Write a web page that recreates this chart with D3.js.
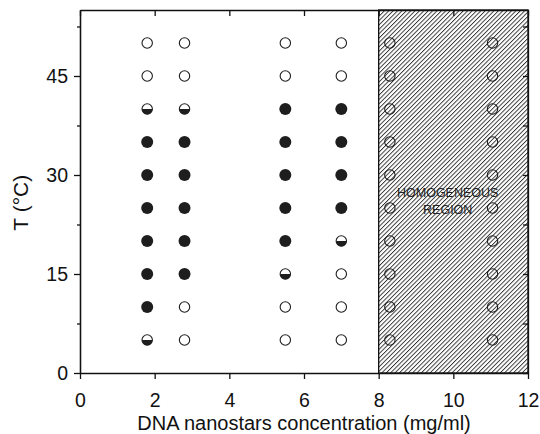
<!DOCTYPE html>
<html>
<head>
<meta charset="utf-8">
<script src="https://cdn.jsdelivr.net/npm/d3@7"></script>
<style>
  body { margin: 0; background: #fff; }
  svg text { font-family: "Liberation Sans", Arial, sans-serif; }
</style>
</head>
<body>
<div id="chart"></div>
<script>
// concentrations (mg/ml) and temperatures (C) of the measured samples
var concentrations = [1.8, 2.8, 5.5, 7, 8.3, 11.05];
var temperatures = [5, 10, 15, 20, 25, 30, 35, 40, 45, 50];
// state per column, listed from 5 C upward: o = open, f = filled, h = half
var states = [
  ["h", "f", "f", "f", "f", "f", "f", "h", "o", "o"],
  ["o", "o", "f", "f", "f", "f", "f", "h", "o", "o"],
  ["o", "o", "h", "f", "f", "f", "f", "f", "o", "o"],
  ["o", "o", "o", "h", "f", "f", "f", "f", "o", "o"],
  ["o", "o", "o", "o", "o", "o", "o", "o", "o", "o"],
  ["o", "o", "o", "o", "o", "o", "o", "o", "o", "o"]
];
var homogeneousFrom = 8;
var xTicks = [0, 2, 4, 6, 8, 10, 12];
var yTicks = [0, 15, 30, 45];
var yMinor = [7.5, 22.5, 37.5, 52.5];

var width = 540, height = 434;
var margin = {top: 10, right: 12, bottom: 61, left: 80};

var points = [];
concentrations.forEach(function(c, i) {
  temperatures.forEach(function(t, j) {
    points.push({c: c, t: t, s: states[i][j]});
  });
});

var svg = d3.select("#chart").append("svg")
  .attr("width", width)
  .attr("height", height);

var x = d3.scaleLinear().domain([0, 12]).range([margin.left, width - margin.right]);
var y = d3.scaleLinear().domain([0, 55]).range([height - margin.bottom, margin.top]);

var defs = svg.append("defs");
defs.append("pattern")
  .attr("id", "hatch")
  .attr("patternUnits", "userSpaceOnUse")
  .attr("width", 3.1)
  .attr("height", 3.1)
  .attr("patternTransform", "rotate(45)")
  .append("line")
  .attr("x1", 0.5).attr("y1", 0)
  .attr("x2", 0.5).attr("y2", 3.1)
  .attr("stroke", "#111")
  .attr("stroke-width", 0.8);

defs.append("clipPath").attr("id", "lowerHalf")
  .append("rect")
  .attr("x", -10).attr("y", 0)
  .attr("width", 20).attr("height", 10);

// homogeneous region
svg.append("rect")
  .attr("x", x(homogeneousFrom))
  .attr("y", y(55))
  .attr("width", x(12) - x(homogeneousFrom))
  .attr("height", y(0) - y(55))
  .attr("fill", "url(#hatch)")
  .attr("stroke", "#111")
  .attr("stroke-width", 1.3);

var label = svg.append("text")
  .attr("text-anchor", "middle")
  .attr("font-size", 12.5)
  .attr("fill", "#222");
label.append("tspan").attr("x", x(9.85)).attr("y", 197).text("HOMOGENEOUS");
label.append("tspan").attr("x", x(9.85)).attr("y", 214).text("REGION");

// axes frame
svg.append("g")
  .attr("transform", "translate(0," + y(0) + ")")
  .call(d3.axisBottom(x).tickValues(xTicks).tickSize(6).tickSizeOuter(0).tickPadding(14));
svg.append("g")
  .attr("transform", "translate(0," + y(55) + ")")
  .call(d3.axisBottom(x).tickValues(xTicks).tickSize(6).tickSizeOuter(0).tickFormat(""));
svg.append("g")
  .attr("transform", "translate(" + x(0) + ",0)")
  .call(d3.axisLeft(y).tickValues(yTicks).tickSize(6).tickSizeOuter(0).tickPadding(6));
svg.append("g")
  .attr("transform", "translate(" + x(0) + ",0)")
  .call(d3.axisLeft(y).tickValues(yMinor).tickSize(3).tickSizeOuter(0).tickFormat(""));
svg.append("g")
  .attr("transform", "translate(" + x(12) + ",0)")
  .call(d3.axisRight(y).tickValues(yTicks.concat(yMinor)).tickSize(-5).tickSizeOuter(0).tickFormat(""));

svg.selectAll(".domain").attr("stroke", "#111").attr("stroke-width", 1.3);
svg.selectAll(".tick line").attr("stroke", "#111").attr("stroke-width", 1.3);
svg.selectAll(".tick text").attr("font-size", 19.5).attr("fill", "#111");

svg.append("text")
  .attr("x", (x(0) + x(12)) / 2)
  .attr("y", 430)
  .attr("text-anchor", "middle")
  .attr("font-size", 20)
  .attr("fill", "#111")
  .text("DNA nanostars concentration (mg/ml)");

svg.append("text")
  .attr("transform", "translate(28," + y(25.8) + ") rotate(-90)")
  .attr("text-anchor", "middle")
  .attr("font-size", 21)
  .attr("fill", "#111")
  .text("T (°C)");

// sample markers
var r = 5.2;
var marks = svg.append("g").selectAll("g")
  .data(points)
  .enter()
  .append("g")
  .attr("transform", function(d) { return "translate(" + x(d.c) + "," + y(d.t) + ")"; });

marks.filter(function(d) { return d.s === "f"; })
  .append("circle")
  .attr("r", r + 0.8)
  .attr("fill", "#1e1e1e");

marks.filter(function(d) { return d.s === "h"; })
  .append("circle")
  .attr("r", r)
  .attr("fill", "#1e1e1e")
  .attr("clip-path", "url(#lowerHalf)");

marks.filter(function(d) { return d.s !== "f"; })
  .append("circle")
  .attr("r", r)
  .attr("fill", "none")
  .attr("stroke", "#1e1e1e")
  .attr("stroke-width", 1.1);
</script>
</body>
</html>
